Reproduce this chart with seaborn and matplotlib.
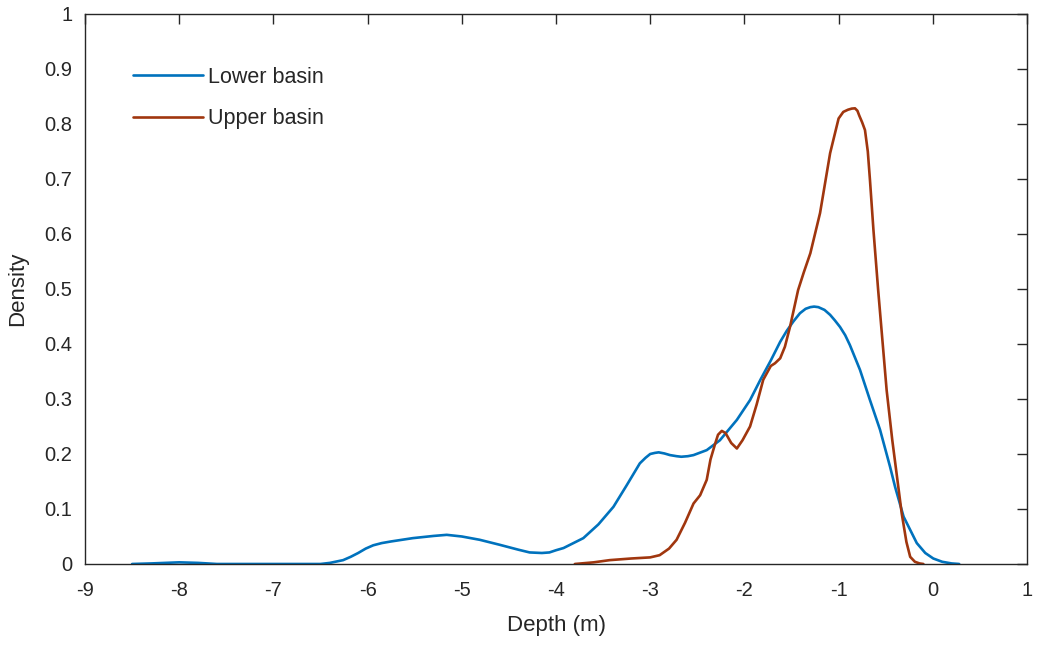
import pandas as pd
import matplotlib
matplotlib.use("Agg")
import matplotlib.pyplot as plt
import seaborn as sns

# Curvas (profundidade x densidade)
lower_x = [-8.5, -8.3, -8.0, -7.8, -7.6, -7.0, -6.5, -6.4, -6.26, -6.18, -6.1, -6.02,
           -5.94, -5.85, -5.75, -5.52, -5.3, -5.16, -5.0, -4.81, -4.6, -4.4, -4.28,
           -4.15, -4.07, -4.0, -3.92, -3.85, -3.71, -3.55, -3.39, -3.25, -3.11, -3.05,
           -3.0, -2.95, -2.91, -2.85, -2.79, -2.72, -2.67, -2.6, -2.54, -2.4, -2.26,
           -2.08, -1.94, -1.83, -1.72, -1.62, -1.55, -1.48, -1.41, -1.35, -1.3, -1.26,
           -1.215, -1.15, -1.09, -1.04, -0.985, -0.93, -0.88, -0.773, -0.667, -0.56,
           -0.454, -0.4, -0.31, -0.17, -0.08, 0.005, 0.1, 0.2, 0.28]
lower_y = [0, 0.001, 0.003, 0.002, 0, 0, 0, 0.002, 0.007, 0.013, 0.02, 0.028,
           0.034, 0.038, 0.041, 0.047, 0.051, 0.053, 0.05, 0.044, 0.035, 0.026, 0.021,
           0.020, 0.021, 0.025, 0.029, 0.035, 0.047, 0.072, 0.104, 0.143, 0.183, 0.193,
           0.2, 0.202, 0.203, 0.201, 0.198, 0.196, 0.195, 0.196, 0.198, 0.207, 0.225,
           0.262, 0.298, 0.335, 0.37, 0.404, 0.424, 0.441, 0.456, 0.464, 0.467, 0.468,
           0.467, 0.462, 0.453, 0.443, 0.431, 0.416, 0.398, 0.353, 0.298, 0.244,
           0.177, 0.14, 0.086, 0.038, 0.02, 0.010, 0.004, 0.001, 0]

upper_x = [-3.8, -3.6, -3.43, -3.2, -3.0, -2.9, -2.8, -2.72, -2.63, -2.54, -2.47,
           -2.40, -2.36, -2.31, -2.28, -2.24, -2.2, -2.14, -2.08, -2.02, -1.94, -1.87,
           -1.80, -1.72, -1.675, -1.62, -1.57, -1.516, -1.43, -1.37, -1.30, -1.197,
           -1.09, -1.0, -0.95, -0.9, -0.86, -0.826, -0.8, -0.78, -0.75, -0.72, -0.69,
           -0.667, -0.63, -0.58, -0.49, -0.43, -0.366, -0.33, -0.28, -0.24, -0.19,
           -0.14, -0.1]
upper_y = [0, 0.003, 0.007, 0.01, 0.012, 0.016, 0.028, 0.044, 0.075, 0.11, 0.125,
           0.153, 0.19, 0.219, 0.235, 0.242, 0.238, 0.22, 0.21, 0.225, 0.25, 0.29,
           0.335, 0.36, 0.365, 0.374, 0.395, 0.431, 0.498, 0.53, 0.565, 0.638,
           0.747, 0.81, 0.822, 0.826, 0.828, 0.8285, 0.824, 0.815, 0.803, 0.789, 0.75,
           0.698, 0.607, 0.498, 0.316, 0.225, 0.14, 0.092, 0.04, 0.013, 0.004,
           0.001, 0]

series_names = ["Lower basin", "Upper basin"]
colors = ["#0072BD", "#A0360E"]

df = pd.concat([
    pd.DataFrame({"Depth": lower_x, "Density": lower_y, "Basin": series_names[0]}),
    pd.DataFrame({"Depth": upper_x, "Density": upper_y, "Basin": series_names[1]}),
])

sns.set_style("white")
plt.rcParams["font.family"] = ["Liberation Sans", "DejaVu Sans"]
plt.rcParams["axes.unicode_minus"] = False

fig = plt.figure(figsize=(10.38, 6.45), dpi=100)
ax = fig.add_axes([0.0819, 0.1256, 0.9075, 0.8527])

sns.lineplot(data=df, x="Depth", y="Density", hue="Basin", palette=colors,
             sort=False, estimator=None, linewidth=1.9, ax=ax)

ax.set_xlim(-9, 1)
ax.set_ylim(0, 1)
ax.set_xticks(range(-9, 2))
ax.set_yticks([i / 10 for i in range(11)])
ax.set_yticklabels(["0"] + [f"{i/10:.1f}" for i in range(1, 10)] + ["1"])
ax.set_xlabel("Depth (m)", fontsize=16, color="#262626")
ax.set_ylabel("Density", fontsize=16, color="#262626")
ax.xaxis.set_label_coords(0.5, -0.093)
ax.yaxis.set_label_coords(-0.0605, 0.5)
ax.tick_params(direction="in", length=7, width=1, top=True, right=True,
               labelsize=14.5, colors="#262626", labelcolor="#262626")
ax.tick_params(axis="x", pad=12)
ax.tick_params(axis="y", pad=9)
for s in ax.spines.values():
    s.set_color("#262626")
    s.set_linewidth(1)

ax.legend(loc="upper left", bbox_to_anchor=(0.051, 0.9036), frameon=False,
          fontsize=15.5, handlelength=3.25, handletextpad=0.23, labelspacing=0.95,
          borderpad=0, borderaxespad=0)

fig.savefig("out.png", dpi=100)
